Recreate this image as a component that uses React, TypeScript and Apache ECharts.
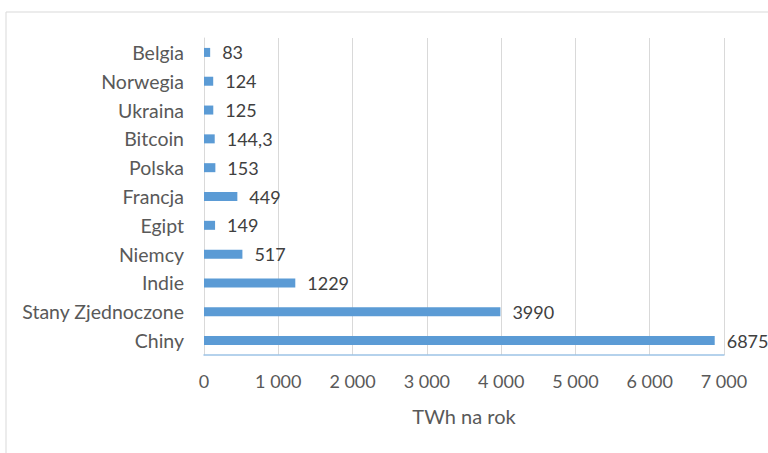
import React, { useEffect, useRef } from "react";
import * as echarts from "echarts";

const categories = [
  "Chiny",
  "Stany Zjednoczone",
  "Indie",
  "Niemcy",
  "Egipt",
  "Francja",
  "Polska",
  "Bitcoin",
  "Ukraina",
  "Norwegia",
  "Belgia",
];
const values = [6875, 3990, 1229, 517, 149, 449, 153, 144.3, 125, 124, 83];
const axisName = "TWh na rok";

const FONT = "Lato, 'Open Sans', sans-serif";

export default function App() {
  const ref = useRef<HTMLDivElement>(null);
  useEffect(() => {
    document.body.style.margin = "0";
    const chart = echarts.init(ref.current!, null, { renderer: "svg" });
    chart.setOption({
      animation: false,
      textStyle: { fontFamily: FONT },
      graphic: [
        {
          type: "rect",
          shape: { x: 6, y: 12, width: 900, height: 600 },
          style: { fill: "none", stroke: "#d9d9d9", lineWidth: 1 },
          silent: true,
        },
      ],
      grid: { left: 204, right: 44, top: 38, bottom: 98, containLabel: false },
      xAxis: {
        type: "value",
        min: 0,
        max: 7000,
        interval: 1000,
        name: axisName,
        nameLocation: "middle",
        nameGap: 51,
        nameTextStyle: { fontSize: 20, color: "#595959", fontFamily: FONT },
        axisLine: { show: true, lineStyle: { color: "#9DC3E6", width: 1.5 } },
        axisTick: { show: false },
        axisLabel: {
          fontSize: 18,
          color: "#595959",
          margin: 17,
          fontFamily: FONT,
          formatter: (v: number) =>
            String(v).replace(/\B(?=(\d{3})+(?!\d))/g, " "),
        },
        splitLine: { show: true, lineStyle: { color: "#d9d9d9", width: 1 } },
      },
      yAxis: {
        type: "category",
        data: categories,
        axisLine: { show: true, lineStyle: { color: "#d9d9d9" } },
        axisTick: { show: false },
        axisLabel: {
          fontSize: 19.5,
          color: "#595959",
          margin: 20,
          fontFamily: FONT,
        },
      },
      series: [
        {
          type: "bar",
          data: values,
          barWidth: 9,
          itemStyle: { color: "#5B9BD5" },
          label: {
            show: true,
            position: "right",
            distance: 12,
            fontSize: 18,
            color: "#404040",
            fontFamily: FONT,
            formatter: (p: any) => String(p.value).replace(".", ","),
          },
        },
      ],
    });
    return () => chart.dispose();
  }, []);
  return <div ref={ref} style={{ width: 768, height: 453 }} />;
}
